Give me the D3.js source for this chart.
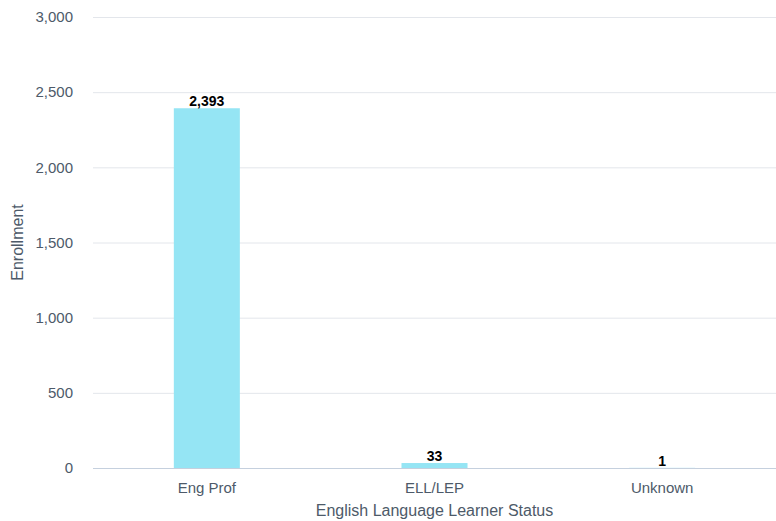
<!DOCTYPE html>
<html>
<head>
<meta charset="utf-8">
<script src="https://cdn.jsdelivr.net/npm/d3@7"></script>
<style>
  html, body { margin: 0; padding: 0; background: #fff; }
  svg { display: block; font-family: "Liberation Sans", Arial, sans-serif; }
</style>
</head>
<body>
<svg id="chart" width="776" height="521"></svg>
<script>
// Enrollment by English Language Learner status
const categories = ["Eng Prof", "ELL/LEP", "Unknown"];
const enrollment = [2393, 33, 1];
const yTicks = [0, 500, 1000, 1500, 2000, 2500, 3000];

const width = 776, height = 521;
const margin = { top: 17, right: 0, bottom: 53, left: 93 };

const svg = d3.select("#chart");

const x = d3.scaleBand()
  .domain(categories)
  .range([margin.left, width - margin.right])
  .paddingInner(0.71)
  .paddingOuter(0.355);

const y = d3.scaleLinear()
  .domain([0, 3000])
  .range([height - margin.bottom, margin.top]);

// Horizontal gridlines
svg.append("g")
  .selectAll("line")
  .data(yTicks.filter(d => d > 0))
  .join("line")
  .attr("x1", margin.left)
  .attr("x2", width - margin.right)
  .attr("y1", d => y(d) + 0.5)
  .attr("y2", d => y(d) + 0.5)
  .attr("stroke", "#e3e6eb")
  .attr("stroke-width", 1);

// Y axis labels
const yAxis = d3.axisLeft(y)
  .tickValues(yTicks)
  .tickFormat(d3.format(","))
  .tickSize(0)
  .tickPadding(0);

svg.append("g")
  .attr("transform", `translate(${margin.left - 20},0)`)
  .call(yAxis)
  .call(g => g.select(".domain").remove())
  .call(g => g.selectAll("text")
    .attr("fill", "#4d5a69")
    .attr("font-size", 15)
    .attr("font-family", "Liberation Sans, Arial, sans-serif"));

// Bars
svg.append("g")
  .selectAll("rect")
  .data(categories)
  .join("rect")
  .attr("x", d => x(d))
  .attr("width", x.bandwidth())
  .attr("y", (d, i) => y(enrollment[i]))
  .attr("height", (d, i) => y(0) - y(enrollment[i]))
  .attr("fill", "#95e5f4");

// Baseline
svg.append("line")
  .attr("x1", margin.left)
  .attr("x2", width - margin.right)
  .attr("y1", y(0) + 0.5)
  .attr("y2", y(0) + 0.5)
  .attr("stroke", "#c5d0de")
  .attr("stroke-width", 1);

// X axis labels
const xAxis = d3.axisBottom(x).tickSize(0).tickPadding(0);
svg.append("g")
  .attr("transform", `translate(0,${y(0) + 14})`)
  .call(xAxis)
  .call(g => g.select(".domain").remove())
  .call(g => g.selectAll("text")
    .attr("fill", "#4d5a69")
    .attr("font-size", 15)
    .attr("font-family", "Liberation Sans, Arial, sans-serif"));

// Value labels
svg.append("g")
  .selectAll("text")
  .data(categories)
  .join("text")
  .attr("x", d => x(d) + x.bandwidth() / 2)
  .attr("y", (d, i) => y(enrollment[i]) - 2)
  .attr("text-anchor", "middle")
  .attr("font-size", 14)
  .attr("font-weight", "bold")
  .attr("fill", "#000")
  .text((d, i) => d3.format(",")(enrollment[i]));

// Axis titles
svg.append("text")
  .attr("x", margin.left + (width - margin.left - margin.right) / 2)
  .attr("y", 516)
  .attr("text-anchor", "middle")
  .attr("font-size", 16)
  .attr("fill", "#4d5a69")
  .text("English Language Learner Status");

svg.append("text")
  .attr("transform", `translate(23,${(margin.top + height - margin.bottom) / 2}) rotate(-90)`)
  .attr("text-anchor", "middle")
  .attr("font-size", 16)
  .attr("fill", "#4d5a69")
  .text("Enrollment");
</script>
</body>
</html>
